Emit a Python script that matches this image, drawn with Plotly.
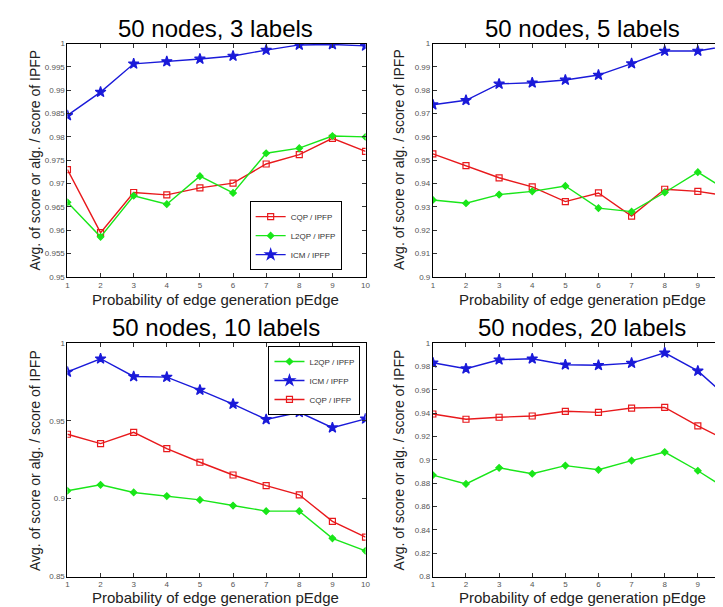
import plotly.graph_objects as go

W, H = 723, 607

p_edge = [1, 2, 3, 4, 5, 6, 7, 8, 9, 10]

# 50 nodes, 3 labels
cqp_3 = [0.9730, 0.9595, 0.9681, 0.9676, 0.9691, 0.9701, 0.9742, 0.9762, 0.9797, 0.9769]
l2qp_3 = [0.9660, 0.9586, 0.9674, 0.9656, 0.9716, 0.9680, 0.9765, 0.9776, 0.9802, 0.9800]
icm_3 = [0.9846, 0.9896, 0.99565, 0.99614, 0.9967, 0.99733, 0.9986, 0.9997, 0.9998, 0.9995]

# 50 nodes, 5 labels
cqp_5 = [0.9527, 0.9477, 0.9425, 0.9386, 0.9323, 0.9360, 0.9261, 0.9376, 0.9367, 0.9345]
l2qp_5 = [0.9330, 0.9316, 0.9353, 0.9367, 0.9390, 0.9295, 0.9280, 0.9362, 0.9449, 0.9360]
icm_5 = [0.9738, 0.9757, 0.9827, 0.9832, 0.9844, 0.9865, 0.9914, 0.9968, 0.9968, 0.9993]

# 50 nodes, 10 labels
cqp_10 = [0.9414, 0.9354, 0.9426, 0.9321, 0.9234, 0.9152, 0.9084, 0.9025, 0.8854, 0.8753]
l2qp_10 = [0.9051, 0.9089, 0.9040, 0.9017, 0.8992, 0.8956, 0.8920, 0.8920, 0.8745, 0.8665]
icm_10 = [0.9814, 0.9899, 0.9785, 0.9781, 0.9698, 0.9608, 0.9509, 0.9555, 0.9456, 0.9513]

# 50 nodes, 20 labels
cqp_20 = [0.9392, 0.9347, 0.9364, 0.9375, 0.9415, 0.9406, 0.9443, 0.9449, 0.9291, 0.9148]
l2qp_20 = [0.8869, 0.8793, 0.8931, 0.8880, 0.8950, 0.8914, 0.8993, 0.9066, 0.8906, 0.8726]
icm_20 = [0.9831, 0.9780, 0.9857, 0.9865, 0.9814, 0.9809, 0.9828, 0.9916, 0.9761, 0.9508]

titles = ["50 nodes, 3 labels", "50 nodes, 5 labels", "50 nodes, 10 labels", "50 nodes, 20 labels"]
x_title = "Probability of edge generation pEdge"
y_title = "Avg. of score or alg. / score of IPFP"

RED, GREEN, BLUE = "#e8191c", "#19e619", "#1a1ad9"

def px_x(p):
    return p / W

def px_y(p):
    return 1 - p / H

fig = go.Figure()

style = {
    "CQP / IPFP": dict(color=RED, symbol="square-open", size=6),
    "L2QP / IPFP": dict(color=GREEN, symbol="diamond", size=5),
    "ICM / IPFP": dict(color=BLUE, symbol="star", size=8),
}

def add(name, y, xa, ya, legend=None):
    s = style[name]
    fig.add_trace(go.Scatter(
        x=p_edge, y=y, name=name, mode="lines+markers",
        xaxis=xa, yaxis=ya,
        line=dict(color=s["color"], width=1.4),
        marker=dict(symbol=s["symbol"], size=s["size"], color=s["color"],
                    line=dict(color=s["color"], width=1.2)),
        showlegend=legend is not None,
        legend=legend if legend else "legend",
        cliponaxis=True,
    ))

# top-left
add("CQP / IPFP", cqp_3, "x", "y", "legend")
add("L2QP / IPFP", l2qp_3, "x", "y", "legend")
add("ICM / IPFP", icm_3, "x", "y", "legend")
# top-right
add("CQP / IPFP", cqp_5, "x2", "y2")
add("L2QP / IPFP", l2qp_5, "x2", "y2")
add("ICM / IPFP", icm_5, "x2", "y2")
# bottom-left
add("L2QP / IPFP", l2qp_10, "x3", "y3", "legend2")
add("ICM / IPFP", icm_10, "x3", "y3", "legend2")
add("CQP / IPFP", cqp_10, "x3", "y3", "legend2")
# bottom-right
add("CQP / IPFP", cqp_20, "x4", "y4")
add("L2QP / IPFP", l2qp_20, "x4", "y4")
add("ICM / IPFP", icm_20, "x4", "y4")

tickfont = dict(family="Arial, Liberation Sans, sans-serif", size=8, color="#555555")

def xaxis(dom, anchor, rng):
    return dict(domain=dom, anchor=anchor, range=rng, tickmode="array",
                tickvals=p_edge, ticks="inside", ticklen=4, tickcolor="#333",
                showline=True, linecolor="black", linewidth=1, mirror="ticks",
                showgrid=False, zeroline=False, tickfont=tickfont)

def yaxis(dom, anchor, rng, dtick, mirror="ticks"):
    return dict(domain=dom, anchor=anchor, range=rng, dtick=dtick, tick0=rng[0],
                ticks="inside", ticklen=4, tickcolor="#333",
                showline=True, linecolor="black", linewidth=1, mirror=mirror,
                showgrid=False, zeroline=False, tickfont=tickfont)

xl = [px_x(58), px_x(359)]
xr = [px_x(427), 1.0]
yt = [px_y(269), px_y(32)]
yb = [px_y(573), px_y(336)]
right_rng = [1, 1 + (723 - 427) / (301 / 9)]

legend_style = dict(xanchor="left", yanchor="top",
                    bgcolor="white", bordercolor="black", borderwidth=1,
                    font=dict(size=8, color="#333"), tracegroupgap=0,
                    itemwidth=30)

fig.update_layout(
    width=W, height=H,
    margin=dict(l=0, r=0, t=0, b=0),
    paper_bgcolor="white", plot_bgcolor="white",
    font=dict(family="Arial, Liberation Sans, sans-serif", color="black"),
    xaxis=xaxis(xl, "y", [1, 10]),
    yaxis=yaxis(yt, "x", [0.95, 1.0], 0.005),
    xaxis2=xaxis(xr, "y2", right_rng),
    yaxis2=yaxis(yt, "x2", [0.9, 1.0], 0.01, mirror=False),
    xaxis3=xaxis(xl, "y3", [1, 10]),
    yaxis3=yaxis(yb, "x3", [0.85, 1.0], 0.05),
    xaxis4=xaxis(xr, "y4", right_rng),
    yaxis4=yaxis(yb, "x4", [0.8, 1.0], 0.02, mirror=False),
    legend=dict(x=px_x(242), y=px_y(192), **legend_style),
    legend2=dict(x=px_x(261), y=px_y(339), **legend_style),
)

anns = []
for t, cx, cy in zip(titles, [208, 578, 208, 578], [17, 17, 320, 320]):
    anns.append(dict(text=t, x=px_x(cx), y=px_y(cy), xref="paper", yref="paper",
                     showarrow=False, font=dict(size=24, color="black"),
                     xanchor="center", yanchor="middle"))
for cx, cy in [(208, 292), (578, 292), (208, 594), (578, 594)]:
    anns.append(dict(text=x_title, x=px_x(cx), y=px_y(cy), xref="paper", yref="paper",
                     showarrow=False, font=dict(size=15, color="#222"),
                     xanchor="center", yanchor="middle"))
for cx, cy in [(25, 150), (393, 150), (25, 455), (393, 455)]:
    anns.append(dict(text=y_title, x=px_x(cx), y=px_y(cy), xref="paper", yref="paper",
                     showarrow=False, textangle=-90, font=dict(size=14, color="#222"),
                     xanchor="center", yanchor="middle"))
fig.update_layout(annotations=anns)

fig.write_html("out.html")
